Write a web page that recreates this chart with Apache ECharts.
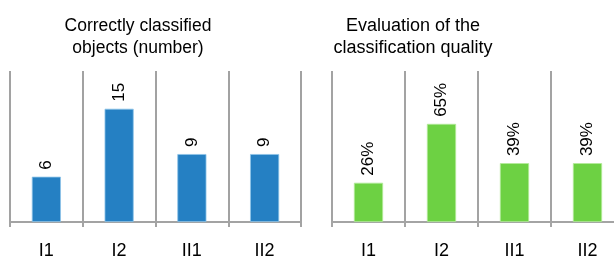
<!DOCTYPE html>
<html>
<head>
<meta charset="utf-8">
<script src="https://cdn.jsdelivr.net/npm/echarts@6/dist/echarts.min.js"></script>
<style>
  html, body { margin: 0; padding: 0; background: #fff; overflow: hidden; }
  #chart { width: 614px; height: 256px; }
</style>
</head>
<body>
<div id="chart"></div>
<script>
var categories = ["I1", "I2", "II1", "II2"];
var countValues = [6, 15, 9, 9];
var qualityValues = [26, 65, 39, 39];
var leftTitle = "Correctly classified\nobjects (number)";
var rightTitle = "Evaluation of the\nclassification quality";

var font = "'Liberation Sans', Arial, sans-serif";

// nearly the same grey everywhere, but not identical (avoids a stray line at the right edge)
function xAxisFor(idx, splitColor, lineColor, tickColor) {
  return {
    type: "category",
    gridIndex: idx,
    data: categories,
    axisLine: { lineStyle: { color: lineColor, width: 2 } },
    axisTick: { show: true, length: 5, lineStyle: { color: tickColor, width: 2 } },
    splitLine: { show: true, lineStyle: { color: splitColor, width: 2 } },
    axisLabel: {
      color: "#000",
      fontSize: 18,
      fontFamily: font,
      margin: 20,
    },
  };
}

function yAxisFor(idx, max) {
  return {
    type: "value",
    gridIndex: idx,
    min: 0,
    max: max,
    axisLine: { show: false },
    axisTick: { show: false },
    axisLabel: { show: false },
    splitLine: { show: false },
  };
}

function barLabel(fmt) {
  return {
    show: true,
    position: "top",
    rotate: 90,
    align: "left",
    verticalAlign: "middle",
    distance: 7,
    color: "#000",
    fontSize: 17,
    fontFamily: font,
    formatter: fmt,
  };
}

var myChart = echarts.init(document.getElementById("chart"));
var options = {
  animation: false,
  title: [
    {
      text: leftTitle,
      left: 138,
      top: 15,
      textAlign: "center",
      padding: 0,
      textStyle: { fontSize: 17.5, fontWeight: "normal", color: "#000", lineHeight: 22, fontFamily: font },
    },
    {
      text: rightTitle,
      left: 413,
      top: 15,
      textAlign: "center",
      padding: 0,
      textStyle: { fontSize: 18, fontWeight: "normal", color: "#000", lineHeight: 22, fontFamily: font },
    },
  ],
  // 两个图表并排, 右边的一部分超出画面
  grid: [
    { left: 10, top: 71, right: 313, bottom: 34, outerBoundsMode: "none" },
    { left: 332, top: 71, right: -10, bottom: 34, outerBoundsMode: "none" },
  ],
  xAxis: [
    xAxisFor(0, "#a2a2a2", "#a3a3a3", "#a3a3a3"),
    xAxisFor(1, "#a3a3a3", "#a4a4a4", "#a5a5a5"),
  ],
  yAxis: [yAxisFor(0, 20), yAxisFor(1, 100)],
  series: [
    {
      type: "bar",
      xAxisIndex: 0,
      yAxisIndex: 0,
      barWidth: "40%",
      data: countValues,
      itemStyle: { color: "#2580c3", borderColor: "#8ec4e8", borderWidth: 0.8 },
      label: barLabel("{c}"),
    },
    {
      type: "bar",
      xAxisIndex: 1,
      yAxisIndex: 1,
      barWidth: "40%",
      data: qualityValues,
      itemStyle: { color: "#6dd143", borderColor: "#b4eb9a", borderWidth: 0.8 },
      label: barLabel("{c}%"),
    },
  ],
};
myChart.setOption(options);
</script>
</body>
</html>
